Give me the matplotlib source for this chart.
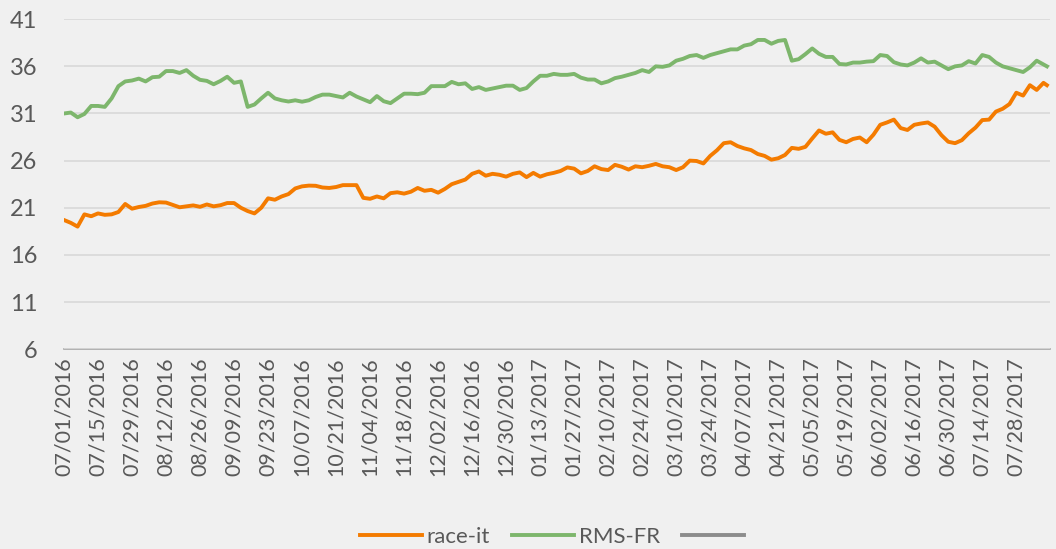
import numpy as np
import pandas as pd
import matplotlib
matplotlib.use("Agg")
import matplotlib.pyplot as plt
from matplotlib.lines import Line2D

# business days from 07/01/2016, one reading every second day
bdays = pd.bdate_range("2016-07-01", periods=290)
sample_idx = list(range(0, 290, 2)) + [289]

race_it = [
    19.7, 19.4, 19.0, 20.3, 20.1, 20.4, 20.25, 20.3, 20.55, 21.4,
    20.9, 21.08, 21.2, 21.45, 21.58, 21.55, 21.3, 21.05, 21.15, 21.25,
    21.1, 21.35, 21.15, 21.27, 21.5, 21.5, 21.0, 20.65, 20.4, 21.0,
    22.0, 21.85, 22.2, 22.45, 23.05, 23.27, 23.35, 23.33, 23.15, 23.1,
    23.2, 23.4, 23.4, 23.4, 22.05, 21.95, 22.2, 22.0, 22.55, 22.64,
    22.5, 22.7, 23.1, 22.8, 22.9, 22.6, 23.0, 23.5, 23.75, 23.99,
    24.6, 24.85, 24.4, 24.6, 24.5, 24.3, 24.6, 24.75, 24.25, 24.7,
    24.3, 24.55, 24.7, 24.9, 25.28, 25.15, 24.65, 24.9, 25.4, 25.1,
    25.0, 25.55, 25.35, 25.05, 25.4, 25.3, 25.45, 25.65, 25.4, 25.3,
    25.0, 25.3, 26.0, 25.96, 25.7, 26.5, 27.1, 27.85, 27.95, 27.55,
    27.3, 27.12, 26.7, 26.5, 26.1, 26.25, 26.6, 27.35, 27.25, 27.46,
    28.35, 29.2, 28.85, 29.0, 28.2, 27.95, 28.3, 28.45, 27.95, 28.75,
    29.8, 30.05, 30.35, 29.45, 29.25, 29.8, 29.94, 30.05, 29.6, 28.7,
    28.0, 27.85, 28.17, 28.9, 29.5, 30.3, 30.35, 31.2, 31.5, 32.0,
    33.2, 32.9, 34.0, 33.5, 34.25, 34.0,
]

rms_fr = [
    31.0, 31.1, 30.6, 30.95, 31.8, 31.8, 31.7, 32.6, 33.9, 34.4,
    34.5, 34.7, 34.4, 34.85, 34.9, 35.5, 35.5, 35.3, 35.6, 35.0,
    34.57, 34.46, 34.1, 34.45, 34.9, 34.25, 34.4, 31.7, 31.95, 32.6,
    33.2, 32.6, 32.4, 32.27, 32.4, 32.25, 32.4, 32.75, 33.0, 33.0,
    32.85, 32.7, 33.2, 32.8, 32.5, 32.2, 32.85, 32.3, 32.1, 32.6,
    33.1, 33.1, 33.05, 33.2, 33.9, 33.9, 33.9, 34.35, 34.1, 34.2,
    33.6, 33.8, 33.5, 33.65, 33.8, 33.95, 33.95, 33.5, 33.7, 34.4,
    35.0, 35.0, 35.2, 35.1, 35.1, 35.2, 34.8, 34.6, 34.6, 34.2,
    34.4, 34.75, 34.9, 35.1, 35.3, 35.6, 35.4, 36.0, 35.95, 36.1,
    36.6, 36.8, 37.1, 37.2, 36.9, 37.2, 37.4, 37.6, 37.8, 37.8,
    38.2, 38.35, 38.8, 38.8, 38.4, 38.7, 38.8, 36.6, 36.76, 37.3,
    37.9, 37.33, 37.0, 37.0, 36.25, 36.2, 36.4, 36.4, 36.5, 36.55,
    37.2, 37.1, 36.44, 36.2, 36.1, 36.4, 36.85, 36.4, 36.5, 36.1,
    35.7, 36.0, 36.1, 36.55, 36.3, 37.2, 37.0, 36.4, 36.0, 35.8,
    35.6, 35.4, 35.9, 36.6, 36.2, 36.0,
]

y_ticks = [6, 11, 16, 21, 26, 31, 36, 41]
tick_idx = list(range(0, 290, 10))
tick_labels = [bdays[i].strftime("%m/%d/%Y") for i in tick_idx]

bg = "#F0F0F0"
orange = "#F47B00"
green = "#7DB66C"
grey = "#8C8C8C"
text_col = "#595959"

plt.rcParams["font.family"] = ["Lato", "DejaVu Sans"]

fig = plt.figure(figsize=(10.56, 5.49), dpi=100, facecolor=bg)
ax = fig.add_axes([0.0606, 0.364, 0.934, 0.601], facecolor=bg)

ax.plot(sample_idx, race_it, color=orange, lw=2.8, solid_joinstyle="round")
ax.plot(sample_idx, rms_fr, color=green, lw=2.8, solid_joinstyle="round")

ax.set_xlim(0, 290)
ax.set_ylim(6, 41)
ax.set_yticks(y_ticks)
ax.set_xticks(tick_idx)
ax.set_xticklabels(tick_labels, rotation=90, fontsize=15.5, color=text_col)
ax.tick_params(axis="y", labelsize=17, colors=text_col, length=0, pad=19)
ax.tick_params(axis="x", length=0, pad=6)
for lbl in ax.get_yticklabels():
    lbl.set_horizontalalignment("right")
    lbl.set_color(text_col)

ax.grid(axis="y", color="#D9D9D9", lw=1.2)
ax.set_axisbelow(True)
for side in ["top", "right", "left"]:
    ax.spines[side].set_visible(False)
ax.spines["bottom"].set_color("#A6A6A6")
ax.spines["bottom"].set_linewidth(1.2)
ax.spines["bottom"].set_zorder(0.5)

handles = [
    Line2D([], [], color=orange, lw=2.8),
    Line2D([], [], color=green, lw=2.8),
    Line2D([], [], color=grey, lw=2.8),
]
fig.legend(handles, ["race-it", "RMS-FR", ""], loc="center",
           bbox_to_anchor=(0.525, 0.022), ncol=3, frameon=False,
           fontsize=16, labelcolor=text_col, handlelength=2.8,
           handletextpad=0.2, columnspacing=1.0)

fig.savefig("out.png", dpi=100, facecolor=bg)
